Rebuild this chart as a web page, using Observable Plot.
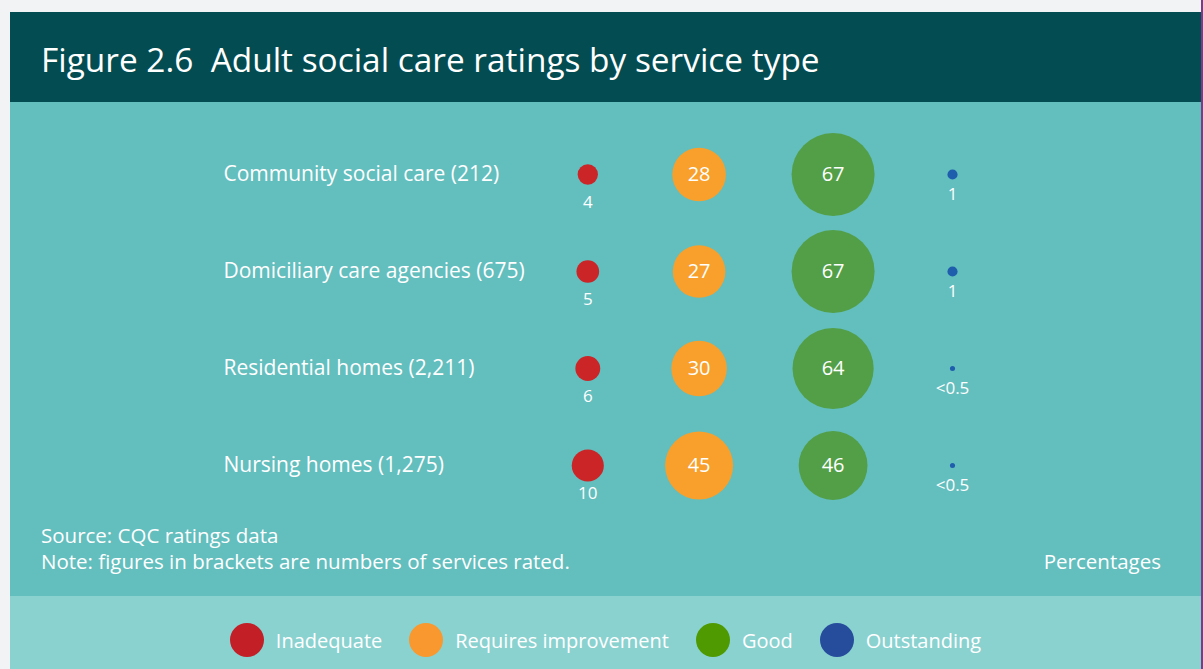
<!DOCTYPE html>
<html>
<head>
<meta charset="utf-8">
<script src="https://cdn.jsdelivr.net/npm/d3@7"></script>
<script src="https://cdn.jsdelivr.net/npm/@observablehq/plot@0.6"></script>
<style>
html, body { margin: 0; padding: 0; background: #f2f3f5; font-family: "Open Sans", sans-serif; }
body { width: 1203px; height: 669px; overflow: hidden; position: relative; }
#edge { position: absolute; left: 1201px; top: 0; width: 2px; height: 669px; background: #7b3b8b; }
#panel { position: absolute; left: 10px; top: 12px; width: 1191px; }
#header { height: 90px; box-sizing: border-box; padding-top: 3px; padding-left: 31px; background: #024c52; color: #fff; font-size: 33.4px; line-height: 88px; white-space: pre; }
#body { background: #63bebe; height: 494px; position: relative; }
#chart svg { display: block; }
#caption { position: relative; height: 74px; box-sizing: border-box; padding-left: 31px; color: #fff; font-size: 20.5px; line-height: 26px; }
#pct { position: absolute; right: 40px; top: 26px; }
#legend { background: #8ad2d0; height: 88px; display: flex; justify-content: center; align-items: center; }
#legend .item { display: flex; align-items: center; gap: 12px; margin: 0 13.5px; color: #fff; font-size: 20px; }
#legend .sw { width: 34px; height: 34px; border-radius: 50%; display: inline-block; }
</style>
</head>
<body>
<div id="edge"></div>
<div id="panel">
  <div id="header">Figure 2.6  Adult social care ratings by service type</div>
  <div id="body">
    <div id="chart"></div>
    <div id="caption">
      <div>Source: CQC ratings data</div>
      <div>Note: figures in brackets are numbers of services rated.</div>
      <div id="pct">Percentages</div>
    </div>
  </div>
  <div id="legend"></div>
</div>
<script>
const services = ["Community social care (212)", "Domiciliary care agencies (675)", "Residential homes (2,211)", "Nursing homes (1,275)"];
const ratings = ["Inadequate", "Requires improvement", "Good", "Outstanding"];
const inadequate = [4, 5, 6, 10];
const requiresImprovement = [28, 27, 30, 45];
const good = [67, 67, 64, 46];
const outstanding = [1, 1, 0.25, 0.25];
const colors = ["#cb2528", "#f8a02b", "#539f47", "#1f5dad"];
const legendColors = ["#c21f27", "#f8982f", "#4f9a00", "#264c9c"];

const series = [inadequate, requiresImprovement, good, outstanding];
const data = services.flatMap((service, i) =>
  ratings.map((rating, j) => ({service, rating, col: j, value: series[j][i]}))
);
const fmt = v => v < 0.5 ? "<0.5" : String(v);

const big = data.filter(d => d.value >= 15);
const smallRed = data.filter(d => d.value < 15 && d.rating === "Inadequate");
const smallBlue = data.filter(d => d.value < 15 && d.rating === "Outstanding");

const chart = Plot.plot({
  width: 1191,
  height: 420,
  marginLeft: 213, marginRight: 0, marginTop: 0, marginBottom: 0,
  style: {background: "transparent", color: "#fff", fontFamily: "'Open Sans', sans-serif"},
  x: {type: "linear", domain: [0, 1, 2, 3], range: [577.3, 688.6, 822.6, 942], axis: null},
  y: {type: "point", domain: services, range: [71, 364.6], padding: 0, axis: null},
  r: {type: "sqrt", domain: [0, 67], range: [0, 41.5]},
  color: {domain: ratings, range: colors},
  marks: [
    Plot.dot(data, {x: "col", y: "service", r: "value", fill: "rating", stroke: null}),
    Plot.text(services, {y: d => d, frameAnchor: "left", textAnchor: "start", fill: "#fff", fontSize: 21}),
    Plot.text(big, {x: "col", y: "service", text: d => fmt(d.value), fill: "#fff", fontSize: 20}),
    Plot.text(smallRed, {x: "col", y: "service", text: d => fmt(d.value), fill: "#fff", fontSize: 17, dy: 28}),
    Plot.text(smallBlue, {x: "col", y: "service", text: d => fmt(d.value), fill: "#fff", fontSize: 17, dy: 20})
  ]
});
document.getElementById("chart").append(chart);

const legend = document.getElementById("legend");
ratings.forEach((r, i) => {
  const item = document.createElement("div");
  item.className = "item";
  const sw = document.createElement("span");
  sw.className = "sw";
  sw.style.background = legendColors[i];
  const label = document.createElement("span");
  label.textContent = r;
  item.append(sw, label);
  legend.append(item);
});
</script>
</body>
</html>
